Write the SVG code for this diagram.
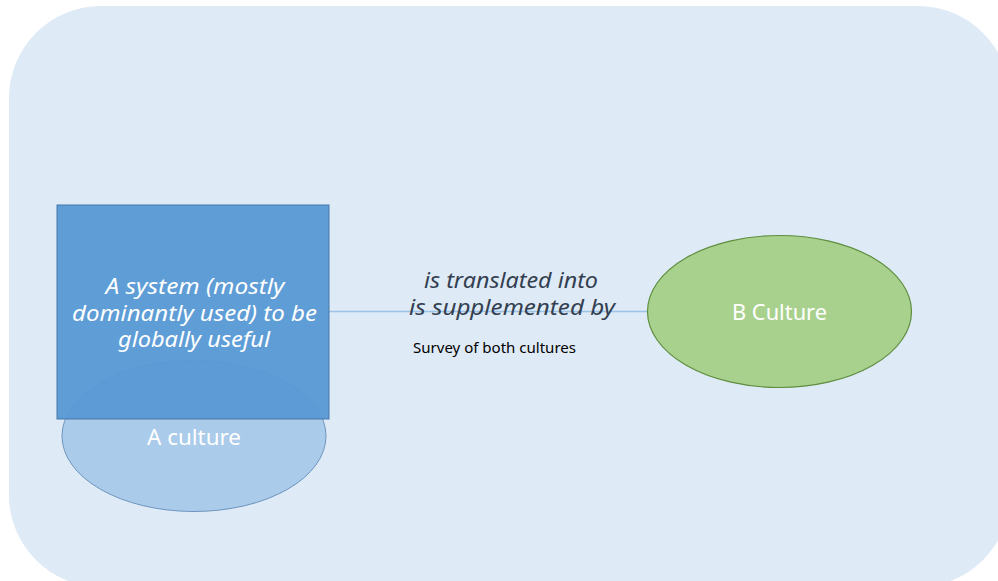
<svg xmlns="http://www.w3.org/2000/svg" width="998" height="581" viewBox="0 0 998 581">
<style>
.t{font-family:"Noto Sans","Open Sans","DejaVu Sans",sans-serif;text-anchor:middle}
.w{fill:#ffffff;font-size:22px}
.i{font-style:italic}
</style>
<rect x="0" y="0" width="998" height="581" fill="#ffffff"/>
<rect id="background" x="9" y="6" width="1001" height="581" rx="92" ry="92" fill="#DEEAF6"/>
<g id="connectors">
<line x1="329" y1="311.5" x2="648" y2="311.5" stroke="#9DC3E6" stroke-width="1.5"/>
</g>
<g id="node-a-culture">
<ellipse cx="194" cy="436" rx="132" ry="75.5" fill="#ABCBEA" stroke="#6E95BF" stroke-width="1"/>
</g>
<g id="node-system">
<rect x="57" y="205" width="272" height="214" fill="#5899D4" fill-opacity="0.96" stroke="#4677A8" stroke-width="1"/>
<text class="t w i" x="195" y="294" textLength="179" lengthAdjust="spacingAndGlyphs">A system (mostly</text>
<text class="t w i" x="194.5" y="320.5" textLength="245" lengthAdjust="spacingAndGlyphs">dominantly used) to be</text>
<text class="t w i" x="194" y="347" textLength="152" lengthAdjust="spacingAndGlyphs">globally useful</text>
</g>
<text class="t w" x="194" y="445" textLength="94" lengthAdjust="spacingAndGlyphs">A culture</text>
<g id="label">
<text class="t i" x="511" y="288" font-size="22" fill="#333F50" textLength="174" lengthAdjust="spacingAndGlyphs">is translated into</text>
<text class="t i" x="512" y="315" font-size="22" fill="#333F50" textLength="206" lengthAdjust="spacingAndGlyphs">is supplemented by</text>
<text class="t" x="494.5" y="353" font-size="14" fill="#000000" textLength="163" lengthAdjust="spacingAndGlyphs">Survey of both cultures</text>
</g>
<g id="node-b-culture">
<ellipse cx="779.5" cy="311.5" rx="132" ry="76" fill="#A9D18E" stroke="#5E8E3E" stroke-width="1.2"/>
<text class="t w" x="779.5" y="320" textLength="95" lengthAdjust="spacingAndGlyphs">B Culture</text>
</g>
</svg>
